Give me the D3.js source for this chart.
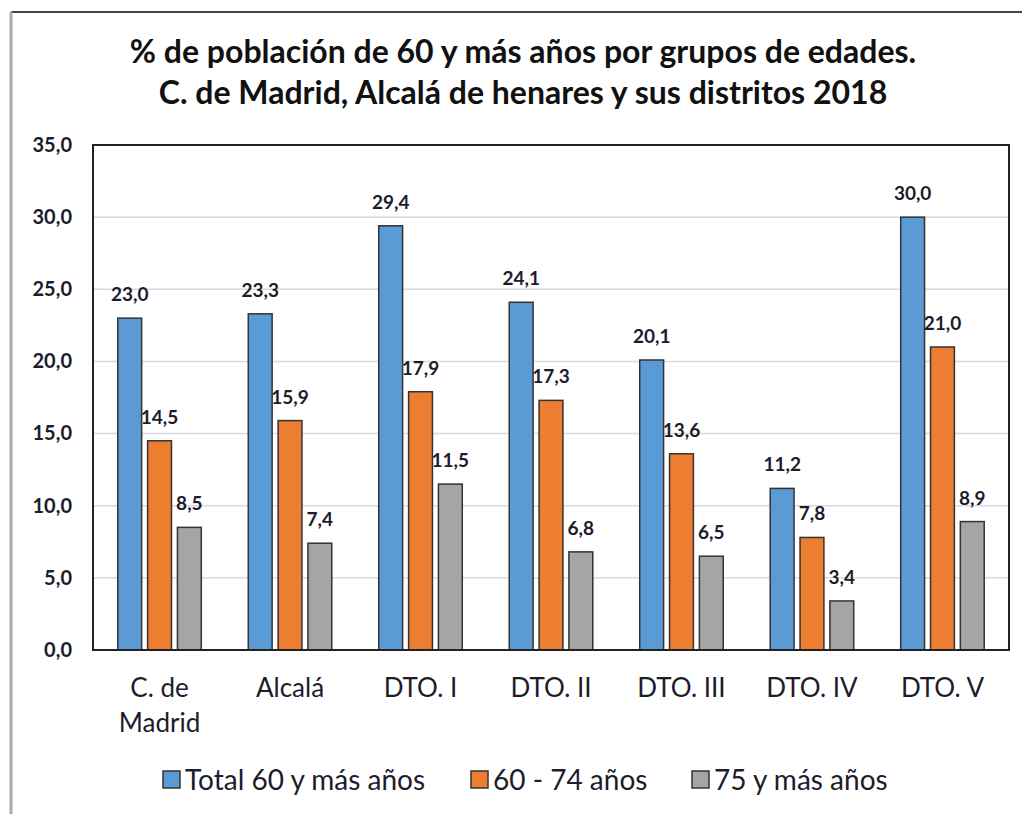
<!DOCTYPE html>
<html><head><meta charset="utf-8">
<script src="https://cdn.jsdelivr.net/npm/d3@7"></script>
<style>body{margin:0;background:#fff;} svg{display:block;}</style>
</head><body>
<script>
const categories = [["C. de","Madrid"],["Alcalá"],["DTO. I"],["DTO. II"],["DTO. III"],["DTO. IV"],["DTO. V"]];
const seriesNames = ["Total 60 y más años","60 - 74 años","75 y más años"];
const total60 = [23.0,23.3,29.4,24.1,20.1,11.2,30.0];
const age60_74 = [14.5,15.9,17.9,17.3,13.6,7.8,21.0];
const age75 = [8.5,7.4,11.5,6.8,6.5,3.4,8.9];
const yTicks = [0,5,10,15,20,25,30,35];
const titleLines = ["% de población de 60 y más años por grupos de edades.","C. de Madrid, Alcalá de henares y sus distritos 2018"];

const colors = ["#5B9BD5","#ED7D31","#A5A5A5"];
const series = [total60, age60_74, age75];
const W = 1022, H = 814;
const font = "Lato, 'Open Sans', sans-serif";
const textCol = "#1c1c2c";
const fmt = v => v.toFixed(1).replace(".", ",");

const svg = d3.select("body").append("svg").attr("width", W).attr("height", H);
svg.append("rect").attr("width", W).attr("height", H).attr("fill", "#fff");
// outer frame
svg.append("line").attr("x1",11).attr("x2",W).attr("y1",12).attr("y2",12).attr("stroke","#444").attr("stroke-width",2);
svg.append("line").attr("x1",11).attr("x2",11).attr("y1",12).attr("y2",H).attr("stroke","#aaa").attr("stroke-width",3);

const m = {left:93, right:1009, top:145, bottom:650};
const keys = categories.map((c,i)=>i);
const x0 = d3.scaleBand().domain(keys).range([m.left, m.right]).paddingInner(0.36).paddingOuter(0.19);
const x1 = d3.scaleBand().domain([0,1,2]).range([0, x0.bandwidth()]).paddingInner(0.2);
const y = d3.scaleLinear().domain([0,35]).range([m.bottom, m.top]);

// gridlines
svg.append("g").selectAll("line").data(yTicks.slice(1,-1)).join("line")
  .attr("x1", m.left).attr("x2", m.right).attr("y1", d=>y(d)).attr("y2", d=>y(d))
  .attr("stroke","#d9d9d9").attr("stroke-width",1.5);

// y axis labels
const yAxis = d3.axisLeft(y).tickValues(yTicks).tickFormat(fmt).tickSize(0).tickPadding(21);
const gy = svg.append("g").attr("transform",`translate(${m.left},0)`).call(yAxis);
gy.select(".domain").remove();
gy.selectAll("text").attr("font-family",font).attr("font-weight","bold").attr("font-size",20).attr("fill",textCol);

// bars
const groups = svg.append("g").selectAll("g").data(keys).join("g")
  .attr("transform", d=>`translate(${x0(d)},0)`);
groups.selectAll("rect").data(i=>series.map((s,j)=>({j, v:s[i]}))).join("rect")
  .attr("x", d=>x1(d.j)).attr("width", x1.bandwidth())
  .attr("y", d=>y(d.v)).attr("height", d=>y(0)-y(d.v))
  .attr("fill", d=>colors[d.j]).attr("stroke","#333").attr("stroke-width",1.5);
groups.selectAll("text").data(i=>series.map((s,j)=>({j, v:s[i]}))).join("text")
  .attr("x", d=>x1(d.j)+x1.bandwidth()/2).attr("y", d=>y(d.v)-17)
  .attr("text-anchor","middle").attr("font-family",font).attr("font-weight","bold")
  .attr("font-size",19).attr("fill",textCol).text(d=>fmt(d.v));

// plot frame
svg.append("rect").attr("x",m.left).attr("y",m.top).attr("width",m.right-m.left).attr("height",m.bottom-m.top)
  .attr("fill","none").attr("stroke","#222").attr("stroke-width",2);

// x labels
const xl = svg.append("g").selectAll("text").data(keys).join("text")
  .attr("x", d=>x0(d)+x0.bandwidth()/2).attr("y", 697)
  .attr("text-anchor","middle").attr("font-family",font).attr("font-size",26).attr("fill",textCol);
xl.selectAll("tspan").data(d=>categories[d]).join("tspan")
  .attr("x", function(){return d3.select(this.parentNode).attr("x");})
  .attr("dy",(d,i)=>i?35:0).text(d=>d);

// title
svg.append("g").selectAll("text").data(titleLines).join("text")
  .attr("x", 523).attr("y",(d,i)=>63+i*41).attr("text-anchor","middle")
  .attr("font-family",font).attr("font-weight","bold").attr("font-size",32).attr("fill","#111").text(d=>d);

// legend
const legX = [163, 471, 692];
const leg = svg.append("g").selectAll("g").data(seriesNames).join("g")
  .attr("transform",(d,i)=>`translate(${legX[i]},771)`);
leg.append("rect").attr("width",17).attr("height",17).attr("fill",(d,i)=>colors[i]).attr("stroke","#333").attr("stroke-width",1.5);
leg.append("text").attr("x",22).attr("y",19).attr("font-family",font).attr("font-size",28).attr("fill",textCol).text(d=>d);
</script>
</body></html>
